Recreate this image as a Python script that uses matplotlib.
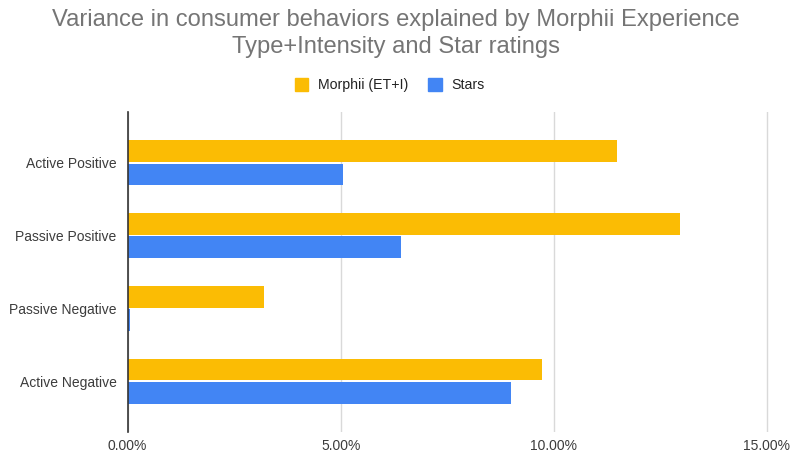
import matplotlib
matplotlib.use("Agg")
import matplotlib.pyplot as plt
from matplotlib.ticker import FuncFormatter
from matplotlib.patches import Patch
import numpy as np

categories = ["Active Positive", "Passive Positive", "Passive Negative", "Active Negative"]
morphii = [11.49, 12.96, 3.20, 9.73]
stars = [5.05, 6.42, 0.05, 8.99]
xticks = [0, 5, 10, 15]

plt.rcParams['font.family'] = ['Liberation Sans', 'DejaVu Sans']

fig = plt.figure(figsize=(7.92, 4.53), dpi=100)
ax = fig.add_axes([0.161, 0.046, 0.81, 0.707])

y = np.arange(len(categories))
h = 0.3
c_m = "#FBBC04"
c_s = "#4285F4"
ax.barh(y - h / 2 - 0.01, morphii, height=h, color=c_m, zorder=3)
ax.barh(y + h / 2 + 0.01, stars, height=h, color=c_s, zorder=3)

ax.set_ylim(3.7, -0.7)
ax.set_xlim(0, 15.05)
ax.set_yticks(y)
ax.set_yticklabels(categories)
ax.set_xticks(xticks)
ax.xaxis.set_major_formatter(FuncFormatter(lambda v, p: f"{v:.2f}%"))
ax.tick_params(axis='both', length=0, labelsize=10, labelcolor="#3c3c3c")
ax.tick_params(axis='y', pad=8)
ax.tick_params(axis='x', pad=5)
ax.grid(axis='x', color="#d9d9d9", linewidth=1, zorder=0)
for s in ["top", "right", "bottom"]:
    ax.spines[s].set_visible(False)
ax.spines["left"].set_color("#333333")
ax.spines["left"].set_linewidth(1.2)
ax.spines["left"].set_zorder(4)

fig.text(0.5, 0.98, "Variance in consumer behaviors explained by Morphii Experience\nType+Intensity and Star ratings",
         ha="center", va="top", fontsize=17.1, color="#757575", linespacing=1.3)

handles = [Patch(color=c_m, label="Morphii (ET+I)"), Patch(color=c_s, label="Stars")]
fig.legend(handles=handles, loc="center", bbox_to_anchor=(0.492, 0.812), ncol=2, frameon=False,
           fontsize=10.2, handlelength=0.95, handleheight=1.0, handletextpad=0.7, columnspacing=1.4,
           labelcolor="#222222")

fig.savefig("out.png", dpi=100, facecolor="white")
